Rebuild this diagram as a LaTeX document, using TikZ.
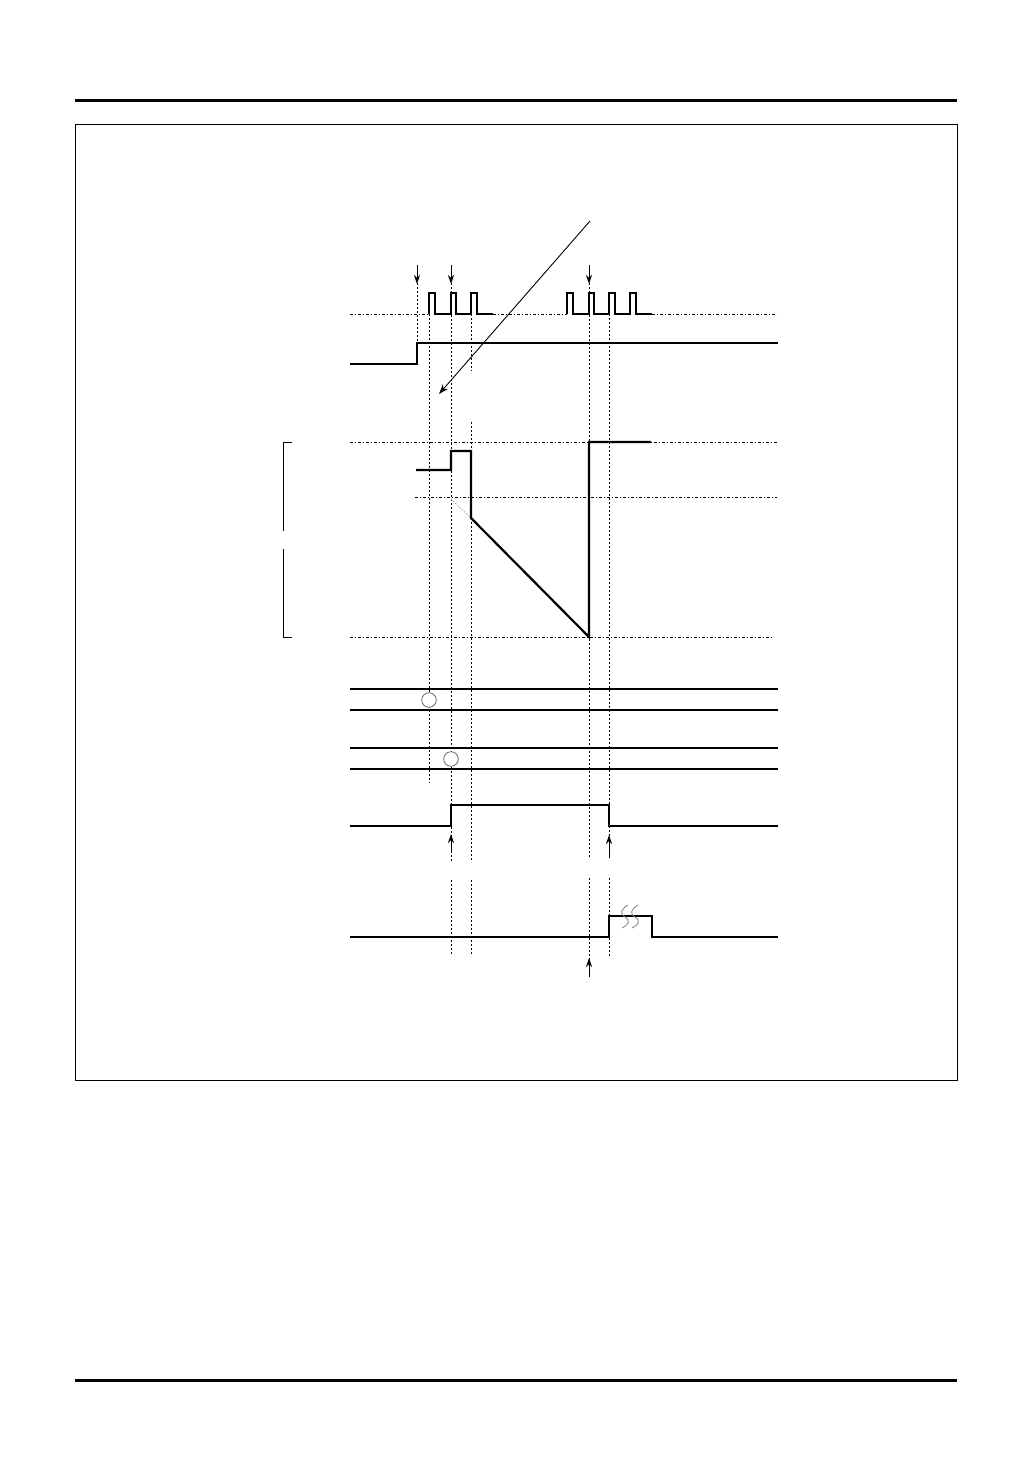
\documentclass[tikz,border=0pt]{standalone}
\usetikzlibrary{arrows.meta}
\begin{document}
\begin{tikzpicture}[x={(1pt,0)},y={(0,-1pt)},
  sig/.style={line width=1.1pt,line join=miter},
  ana/.style={line width=2.2pt,line join=miter},
  vdot/.style={line width=0.9pt,dash pattern=on 2pt off 2pt},
  hdot/.style={line width=0.9pt,dash pattern=on 3pt off 2pt on 1pt off 2pt},
  tickarrow/.style={line width=1pt,-{Stealth[length=9pt,width=6pt]}},
  rule/.style={line width=3pt},
  brk/.style={gray,line width=0.8pt}]
\useasboundingbox (0,0) rectangle (1032,1458);
\fill[white] (0,0) rectangle (1032,1458);
% page rules and frame
\draw[rule] (75,101) -- (957,101);
\draw[rule] (75,1380) -- (957,1380);
\draw[line width=0.9pt] (75,124) rectangle (957,1080);
% vertical dotted guides
\draw[vdot] (417,283) -- (417,343);
\draw[vdot] (429,314) -- (429,783);
\draw[vdot] (451,283) -- (451,862);
\draw[vdot] (471,314) -- (471,371);
\draw[vdot] (471,422) -- (471,862);
\draw[vdot] (589,283) -- (589,858);
\draw[vdot] (609,314) -- (609,858);
\draw[vdot] (451,880) -- (451,956);
\draw[vdot] (471,880) -- (471,956);
\draw[vdot] (589,878) -- (589,960);
\draw[vdot] (609,878) -- (609,956);
% horizontal dotted reference lines
\draw[hdot] (350,314) -- (429,314);
\draw[hdot] (493,314) -- (567,314);
\draw[hdot] (652,314) -- (777,314);
\draw[hdot] (350,442) -- (777,442);
\draw[hdot] (415,497) -- (777,497);
\draw[hdot] (350,637) -- (774,637);
% clock pulses
\draw[sig] (429,314) -- (429,293) -- (435,293) -- (435,314) -- (451,314) -- (451,293) -- (456,293) -- (456,314)
  -- (471,314) -- (471,293) -- (477,293) -- (477,314) -- (493,314);
\draw[sig] (567,314) -- (567,293) -- (573,293) -- (573,314) -- (589,314) -- (589,293) -- (594,293) -- (594,314)
  -- (609,314) -- (609,293) -- (615,293) -- (615,314) -- (630,314) -- (630,293) -- (636,293) -- (636,314) -- (652,314);
% down arrows above
\draw[tickarrow] (417,265) -- (417,284);
\draw[tickarrow] (451,265) -- (451,284);
\draw[tickarrow] (589,265) -- (589,284);
% second signal
\draw[sig] (350,364) -- (417,364) -- (417,343) -- (778,343);
% long diagonal arrow
\coordinate (dA) at (590,221);
\coordinate (dB) at (439,394);
\draw[line width=0.9pt,-{Stealth[length=10pt,width=7pt]}] (dA) -- (dB);
% analog waveform
\draw[gray!70,line width=0.8pt,dash pattern=on 1.5pt off 1.5pt] (451,499) -- (471,518);
\draw[ana] (416,470) -- (451,470) -- (451,451) -- (471,451) -- (471,518) -- (589,637) -- (589,442) -- (651,442);
% bracket
\draw[line width=1pt] (292,442) -- (283,442) -- (283,531);
\draw[line width=1pt] (283,549) -- (283,637) -- (292,637);
% buses
\draw[sig] (350,689) -- (778,689);
\draw[sig] (350,710) -- (778,710);
\draw[sig] (350,748) -- (778,748);
\draw[sig] (350,769) -- (778,769);
\node[circle,draw=gray!80!black,line width=0.8pt,minimum size=14.6pt,inner sep=0pt,fill=white] (c1) at (429,700) {};
\node[circle,draw=gray!80!black,line width=0.8pt,minimum size=14.6pt,inner sep=0pt,fill=white] (c2) at (451,759) {};
% third signal
\draw[sig] (350,826) -- (451,826) -- (451,805) -- (609,805) -- (609,826) -- (778,826);
\draw[tickarrow] (451,853) -- (451,834);
\draw[tickarrow] (609,858) -- (609,835);
% fourth signal
\draw[sig] (350,937) -- (609,937) -- (609,916) -- (652,916) -- (652,937) -- (778,937);
\draw[tickarrow] (589,977) -- (589,958);
% break marks
\draw[brk] (628,905) .. controls (620,910) and (620,914) .. (625,917) .. controls (630,920) and (630,924) .. (622,928);
\draw[brk] (638,905) .. controls (630,910) and (630,914) .. (635,917) .. controls (640,920) and (640,924) .. (632,928);
\end{tikzpicture}
\end{document}
